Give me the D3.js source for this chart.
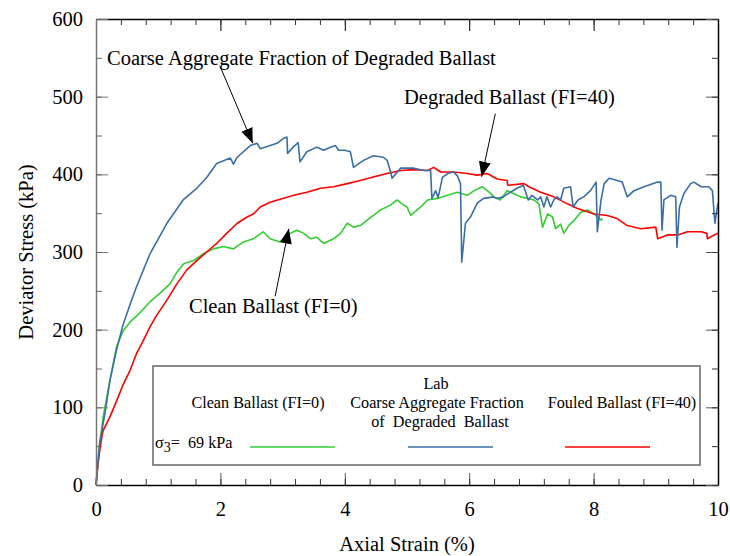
<!DOCTYPE html>
<html>
<head>
<meta charset="utf-8">
<script src="https://cdn.jsdelivr.net/npm/d3@7"></script>
<style>
body { margin: 0; background: #fff; }
svg text { font-family: "Liberation Serif", Tinos, "Times New Roman", serif; fill: #000; }
</style>
</head>
<body>
<svg id="chart" width="730" height="556"></svg>
<script>
// coarse aggregate fraction of degraded ballast (blue)
var strainCoarse = [0, 0.03, 0.06, 0.145, 0.225, 0.33, 0.43, 0.55, 0.65, 0.87, 1.14, 1.40, 1.62, 1.78, 1.94, 2.16, 2.21, 2.27, 2.48, 2.59, 2.64, 2.80, 2.91, 3.01, 3.07, 3.08, 3.17, 3.25, 3.28, 3.39, 3.55, 3.66, 3.77, 3.85, 3.90, 4.00, 4.09, 4.14, 4.30, 4.46, 4.62, 4.68, 4.73, 4.76, 4.90, 5.02, 5.10, 5.27, 5.38, 5.40, 5.46, 5.50, 5.57, 5.65, 5.75, 5.81, 5.86, 5.88, 5.94, 6.02, 6.13, 6.23, 6.39, 6.44, 6.55, 6.66, 6.77, 6.87, 6.95, 7.01, 7.10, 7.15, 7.20, 7.25, 7.31, 7.36, 7.41, 7.47, 7.52, 7.63, 7.67, 7.75, 7.84, 7.95, 8.04, 8.06, 8.12, 8.17, 8.25, 8.38, 8.46, 8.54, 8.65, 8.81, 9.03, 9.08, 9.10, 9.13, 9.24, 9.32, 9.34, 9.38, 9.45, 9.56, 9.61, 9.73, 9.85, 9.91, 9.95, 9.99, 10.0];
var stressCoarse = [0, 28, 54, 93, 135, 174, 205, 233, 255, 298, 337, 367, 382, 396, 414, 421, 413, 422, 437, 440, 433, 437, 440, 446, 448, 427, 435, 441, 416, 429, 435, 431, 435, 437, 431, 431, 429, 409, 418, 424, 422, 418, 405, 395, 408, 408, 408, 405, 405, 369, 379, 370, 396, 401, 403, 398, 388, 287, 337, 345, 363, 369, 371, 369, 371, 377, 382, 386, 367, 373, 367, 371, 358, 371, 358, 367, 371, 367, 382, 384, 358, 367, 371, 379, 390, 326, 367, 388, 395, 392, 390, 371, 379, 384, 390, 390, 328, 367, 373, 371, 306, 358, 375, 388, 390, 384, 384, 379, 337, 358, 363];

// clean ballast FI=0 (green)
var strainClean = [0, 0.03, 0.06, 0.12, 0.225, 0.33, 0.44, 0.55, 0.71, 0.87, 1.03, 1.19, 1.30, 1.41, 1.57, 1.73, 1.89, 2.05, 2.21, 2.37, 2.53, 2.69, 2.80, 2.96, 3.07, 3.12, 3.23, 3.34, 3.45, 3.55, 3.66, 3.82, 3.93, 4.04, 4.14, 4.25, 4.36, 4.57, 4.73, 4.84, 4.92, 5.00, 5.06, 5.22, 5.33, 5.49, 5.65, 5.81, 5.97, 6.08, 6.21, 6.32, 6.40, 6.50, 6.61, 6.72, 6.83, 6.94, 7.04, 7.12, 7.18, 7.26, 7.34, 7.39, 7.47, 7.52, 7.60, 7.69, 7.79, 7.90, 8.01, 8.12, 8.14];
var stressClean = [0, 28, 54, 90, 135, 178, 199, 210, 222, 236, 247, 259, 274, 285, 289, 298, 304, 307, 304, 313, 317, 326, 317, 313, 322, 324, 328, 324, 317, 319, 311, 317, 324, 337, 332, 334, 341, 354, 360, 367, 362, 358, 347, 358, 367, 369, 373, 377, 373, 379, 384, 377, 371, 367, 379, 375, 371, 369, 367, 362, 332, 349, 345, 330, 336, 324, 334, 341, 351, 354, 349, 341, 343];

// fouled ballast FI=40 (red)
var strainFouled = [0, 0.03, 0.06, 0.10, 0.12, 0.225, 0.33, 0.44, 0.55, 0.65, 0.76, 0.87, 0.98, 1.14, 1.30, 1.46, 1.62, 1.78, 1.94, 2.10, 2.27, 2.43, 2.53, 2.64, 2.80, 2.96, 3.18, 3.39, 3.61, 3.82, 4.04, 4.25, 4.47, 4.68, 4.90, 5.11, 5.33, 5.43, 5.54, 5.75, 5.97, 6.13, 6.29, 6.45, 6.61, 6.62, 6.88, 6.96, 7.15, 7.36, 7.58, 7.74, 8.01, 8.22, 8.38, 8.54, 8.76, 9.00, 9.03, 9.19, 9.35, 9.51, 9.73, 9.82, 9.83, 9.94, 10.0];
var stressFouled = [0, 25, 45, 65, 71, 88, 108, 130, 148, 169, 186, 204, 219, 238, 259, 277, 289, 300, 311, 324, 337, 345, 349, 358, 364, 368, 373, 377, 382, 384, 388, 392, 397, 401, 405, 406, 405, 409, 403, 403, 401, 399, 401, 394, 392, 386, 388, 384, 377, 371, 362, 356, 349, 347, 343, 334, 330, 332, 317, 322, 322, 326, 326, 324, 317, 322, 324];

var seriesNames = ["Clean Ballast (FI=0)", "Coarse Aggregate Fraction", "Fouled Ballast (FI=40)"];
var seriesColors = ["#33cc33", "#3b6ea5", "#ff0000"];

var xMajor = [0, 2, 4, 6, 8, 10];
var yMajor = [0, 100, 200, 300, 400, 500, 600];

// annotation text + arrow (start, tip) in data units
var notes = [
	{label: "Coarse Aggregate Fraction of Degraded Ballast", tx: 107, ty: 65, x1: 1.99, y1: 540, x2: 2.52, y2: 440},
	{label: "Degraded Ballast (FI=40)", tx: 404, ty: 104, x1: 6.42, y1: 478, x2: 6.2, y2: 397},
	{label: "Clean Ballast (FI=0)", tx: 189, ty: 313, x1: 2.88, y1: 243, x2: 3.1, y2: 330}
];

var svg = d3.select("#chart");
var x = d3.scaleLinear().domain([0, 10]).range([96, 718]);
var y = d3.scaleLinear().domain([0, 600]).range([485, 19]);

svg.append("defs").append("marker")
	.attr("id", "tip")
	.attr("viewBox", "0 -5 10 10")
	.attr("refX", 10)
	.attr("markerWidth", 15)
	.attr("markerHeight", 15)
	.attr("markerUnits", "userSpaceOnUse")
	.attr("orient", "auto")
	.append("path")
	.attr("d", "M0,-4L10,0L0,4Z")
	.attr("fill", "#000");

// curves
var line = d3.line().x(function(d) { return x(d[0]); }).y(function(d) { return y(d[1]); });
var curves = [
	{xs: strainClean, ys: stressClean, c: seriesColors[0]},
	{xs: strainFouled, ys: stressFouled, c: seriesColors[2]},
	{xs: strainCoarse, ys: stressCoarse, c: seriesColors[1]}
];
curves.forEach(function(s) {
	var pts = s.xs.map(function(v, i) { return [v, s.ys[i]]; });
	svg.append("path").datum(pts)
		.attr("d", line)
		.attr("fill", "none")
		.attr("stroke", s.c)
		.attr("stroke-width", 1.6)
		.attr("stroke-linejoin", "round");
});

// axes, ticks pointing inward
function styleAxis(g, col) {
	g.attr("font-family", null).attr("font-size", null);
	g.selectAll(".tick line").attr("stroke", col);
	g.select(".domain").attr("stroke", col).attr("stroke-width", 1.5);
	g.selectAll("text").style("font-size", "20.5px");
}
var minorX = d3.range(0, 10.01, 0.4);
var minorY = d3.range(0, 601, 50);

var gb = svg.append("g").attr("transform", "translate(0,485)")
	.call(d3.axisBottom(x).tickValues(xMajor).tickSize(-12).tickSizeOuter(0).tickPadding(16).tickFormat(d3.format("d")));
styleAxis(gb, "#000");
gb.selectAll(".tick line").attr("stroke", "#555");
svg.append("g").attr("transform", "translate(0,485)")
	.call(d3.axisBottom(x).tickValues(minorX).tickSize(-6).tickSizeOuter(0).tickFormat(""))
	.call(function(g) { g.select(".domain").remove(); g.selectAll("line").attr("stroke", "#333"); });

var gt = svg.append("g").attr("transform", "translate(0,19)")
	.call(d3.axisTop(x).tickValues(xMajor).tickSize(-12).tickSizeOuter(0).tickFormat(""));
styleAxis(gt, "#000");
svg.append("g").attr("transform", "translate(0,19)")
	.call(d3.axisTop(x).tickValues(minorX).tickSize(-6).tickSizeOuter(0).tickFormat(""))
	.call(function(g) { g.select(".domain").remove(); g.selectAll("line").attr("stroke", "#333"); });

var gl = svg.append("g").attr("transform", "translate(96,0)")
	.call(d3.axisLeft(y).tickValues(yMajor).tickSize(-12).tickSizeOuter(0).tickPadding(13));
styleAxis(gl, "#777");
svg.append("g").attr("transform", "translate(96,0)")
	.call(d3.axisLeft(y).tickValues(minorY).tickSize(-6).tickSizeOuter(0).tickFormat(""))
	.call(function(g) { g.select(".domain").remove(); g.selectAll("line").attr("stroke", "#666"); });

var gr = svg.append("g").attr("transform", "translate(718,0)")
	.call(d3.axisRight(y).tickValues(yMajor).tickSize(-12).tickSizeOuter(0).tickFormat(""));
styleAxis(gr, "#000");
gr.selectAll(".tick line").attr("stroke", "#555");
svg.append("g").attr("transform", "translate(718,0)")
	.call(d3.axisRight(y).tickValues(minorY).tickSize(-6).tickSizeOuter(0).tickFormat(""))
	.call(function(g) { g.select(".domain").remove(); g.selectAll("line").attr("stroke", "#333"); });

// axis titles
svg.append("text").attr("x", 407).attr("y", 551).attr("text-anchor", "middle")
	.style("font-size", "20.5px").text("Axial Strain (%)");
svg.append("text").attr("transform", "translate(33,252) rotate(-90)").attr("text-anchor", "middle")
	.style("font-size", "20.5px").text("Deviator Stress (kPa)");

// annotations
notes.forEach(function(n) {
	svg.append("line")
		.attr("x1", x(n.x1)).attr("y1", y(n.y1))
		.attr("x2", x(n.x2)).attr("y2", y(n.y2))
		.attr("stroke", "#000").attr("stroke-width", 1)
		.attr("marker-end", "url(#tip)");
	svg.append("text").attr("x", n.tx).attr("y", n.ty)
		.style("font-size", "20.5px").text(n.label);
});

// legend
var lg = svg.append("g");
lg.append("rect").attr("x", 153).attr("y", 366).attr("width", 547).attr("height", 99)
	.attr("fill", "#fff").attr("stroke", "#666").attr("stroke-width", 1.5);
var legFont = "16.2px";
lg.append("text").attr("x", 436).attr("y", 389).attr("text-anchor", "middle").style("font-size", legFont).text("Lab");
var legCx = [258, 437, 622];
var legLineX = [250, 408, 565];
seriesNames.forEach(function(nm, i) {
	lg.append("text").attr("x", legCx[i]).attr("y", 408).attr("text-anchor", "middle")
		.style("font-size", legFont).text(nm);
	lg.append("line")
		.attr("x1", legLineX[i]).attr("x2", legLineX[i] + 85)
		.attr("y1", 447).attr("y2", 447)
		.attr("stroke", seriesColors[i]).attr("stroke-width", 1.5);
});
lg.append("text").attr("x", 440).attr("y", 427).attr("text-anchor", "middle")
	.style("font-size", legFont).style("white-space", "pre").text("of  Degraded  Ballast");
var sig = lg.append("text").attr("x", 155).attr("y", 448).style("font-size", legFont).style("white-space", "pre");
sig.append("tspan").text("σ");
sig.append("tspan").attr("dy", 4).style("font-size", "14px").text("3");
sig.append("tspan").attr("dy", -4).text("=  69 kPa");
</script>
</body>
</html>
